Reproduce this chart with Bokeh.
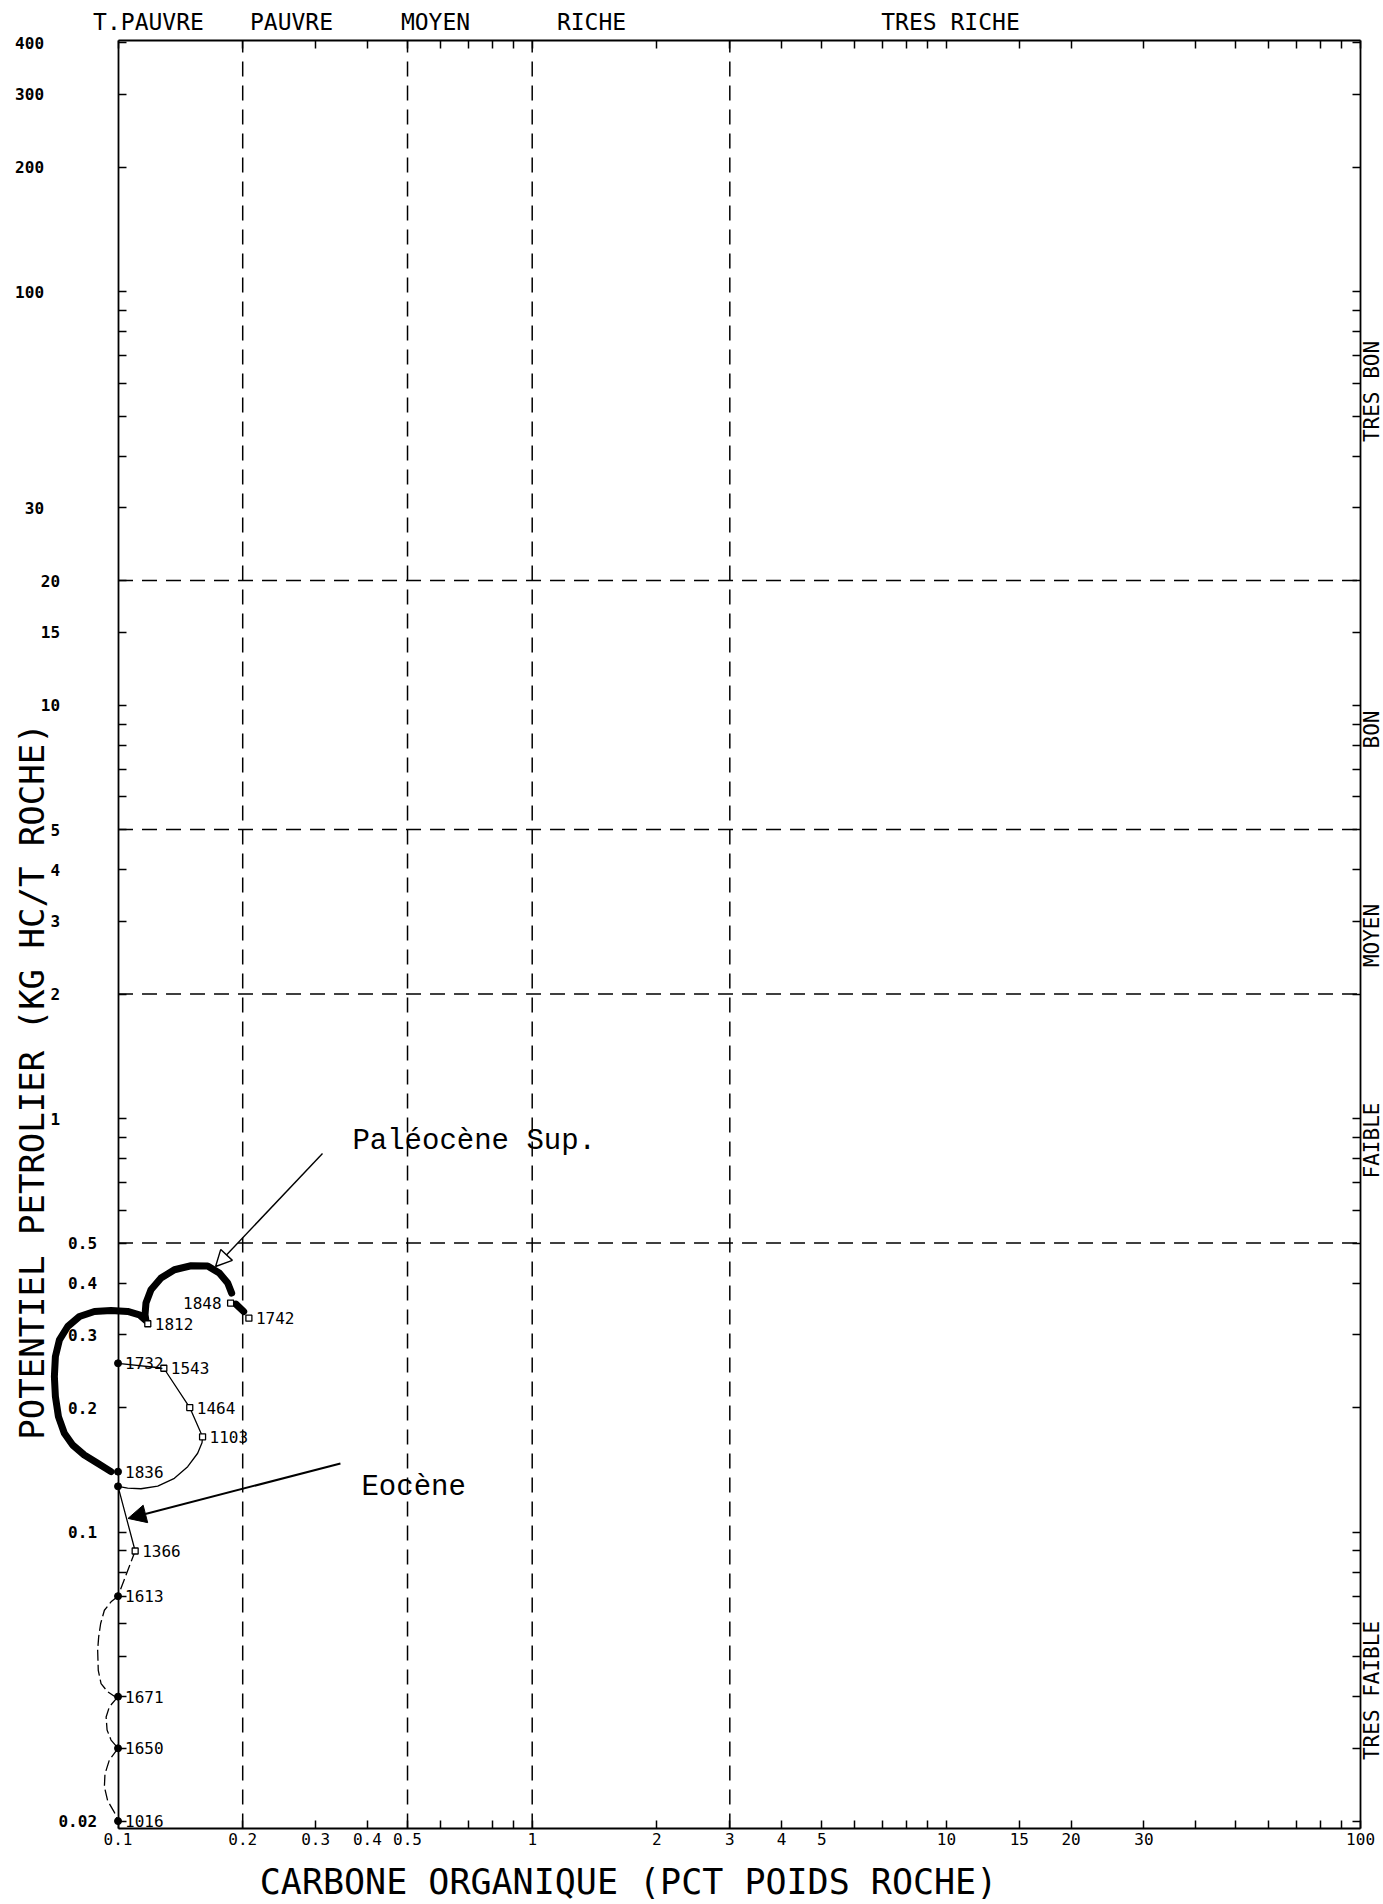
import math

from bokeh.core.properties import value
from bokeh.embed import file_html
from bokeh.models import (Arrow, ColumnDataSource, CustomJSTickFormatter,
                          FixedTicker, Label, LogAxis, NormalHead, Range1d)
from bokeh.plotting import figure
from bokeh.resources import INLINE

# ---------------------------------------------------------------- axes
TOC_MIN, TOC_MAX = 0.1, 100.0          # carbone organique (% poids roche)
PP_MIN, PP_MAX = 0.0192, 405.0         # potentiel petrolier (kg HC / t roche)
# the drawing area spans the whole page; the frame box sits inside it
VIEW_X = (0.05203, 113.6)
VIEW_Y = (0.01257, 505.8)

X_TICKS = [0.1, 0.2, 0.3, 0.4, 0.5, 1, 2, 3, 4, 5, 10, 15, 20, 30, 100]
X_TICK_LABELS = ["0.1", "0.2", "0.3", "0.4", "0.5", "1", "2", "3", "4", "5",
                 "10", "15", "20", "30", "100"]
X_MINOR = [0.6, 0.7, 0.8, 0.9, 6, 7, 8, 9, 40, 50, 60, 70, 80, 90]

Y_TICKS = [0.02, 0.1, 0.2, 0.3, 0.4, 0.5, 1, 2, 3, 4, 5, 10, 15, 20, 30,
           100, 200, 300, 400]
Y_TICK_LABELS = ["0.02", "0.1", "0.2", "0.3", "0.4", "0.5", "1", "2", "3", "4",
                 "5", "10", "15", "20", "30", "100", "200", "300", "400"]
Y_MINOR = [0.03, 0.04, 0.05, 0.06, 0.07, 0.08, 0.09, 0.6, 0.7, 0.8, 0.9,
           6, 7, 8, 9, 40, 50, 60, 70, 80, 90]

# ---------------------------------------------------------------- classes
TOC_CLASSES = ["T.PAUVRE", "PAUVRE", "MOYEN", "RICHE", "TRES RICHE"]
TOC_BOUNDS = [0.2, 0.5, 1, 3]
PP_CLASSES = ["TRES BON", "BON", "MOYEN", "FAIBLE", "TRES FAIBLE"]
PP_BOUNDS = [20, 5, 2, 0.5]

# ---------------------------------------------------------------- samples (depth, TOC, PP)
SAMPLE_DEPTH = ["1812", "1848", "1742", "1732", "1543", "1464", "1103",
                "1836", "", "1366", "1613", "1671", "1650", "1016"]
SAMPLE_TOC = [0.118, 0.187, 0.207, 0.1, 0.129, 0.149, 0.160,
              0.1, 0.1, 0.110, 0.1, 0.1, 0.1, 0.1]
SAMPLE_PP = [0.319, 0.358, 0.329, 0.256, 0.249, 0.200, 0.170,
             0.140, 0.129, 0.090, 0.070, 0.040, 0.030, 0.020]

# Paleocene sup. trend (thick)
PALEO_TOC = [0.0962, 0.0893, 0.0829, 0.0777, 0.0742, 0.0718, 0.0706, 0.0702,
             0.0706, 0.0722, 0.0756, 0.0807, 0.0877, 0.0962, 0.1055, 0.1126,
             0.1168, 0.1162, 0.1168, 0.1201, 0.1270, 0.1368, 0.1501, 0.1646,
             0.1756, 0.1840, 0.1881]
PALEO_PP = [0.140, 0.1467, 0.1536, 0.1624, 0.1734, 0.1902, 0.2127, 0.2377,
            0.2658, 0.2917, 0.3142, 0.3322, 0.3416, 0.3435, 0.3416, 0.3353,
            0.3249, 0.3353, 0.3579, 0.3855, 0.4115, 0.4309, 0.4406, 0.4399,
            0.4231, 0.4001, 0.3784]
PALEO_TAIL_TOC = [0.1926, 0.2011]
PALEO_TAIL_PP = [0.3559, 0.3416]

# Eocene trend (thin, solid part)
EOC_TOC = [0.1, 0.129, 0.149, 0.160, 0.1595, 0.1557, 0.1473, 0.1368, 0.1247,
           0.1136, 0.1055, 0.1, 0.110]
EOC_PP = [0.256, 0.249, 0.200, 0.170, 0.1645, 0.1551, 0.1439, 0.1349, 0.1292,
          0.1273, 0.1278, 0.129, 0.090]

# Eocene trend (thin, dashed part)
EOC_DASH_TOC = [
    [0.110, 0.1],
    [0.1, 0.0962, 0.0927, 0.0908, 0.0898, 0.0893, 0.0896, 0.0910, 0.0944, 0.0980, 0.1],
    [0.1, 0.0953, 0.0936, 0.0941, 0.0962, 0.0989, 0.1],
    [0.1, 0.0953, 0.0930, 0.0927, 0.0944, 0.0980, 0.1],
]
EOC_DASH_PP = [
    [0.090, 0.070],
    [0.070, 0.0678, 0.0647, 0.0601, 0.0558, 0.0518, 0.0463, 0.0430, 0.0411, 0.0401, 0.040],
    [0.040, 0.0378, 0.0357, 0.0332, 0.0314, 0.0304, 0.030],
    [0.030, 0.0281, 0.0260, 0.0242, 0.0224, 0.0210, 0.020],
]

MONO = "DejaVu Sans Mono"
TYPE = "Liberation Mono"
W, H = 1383, 1904


def lookup(vals, labs):
    return CustomJSTickFormatter(
        args=dict(vals=list(vals), labs=list(labs)),
        code="""
        const i = vals.findIndex((v) => Math.abs(v - tick) <= 1e-9 * Math.abs(v));
        return i < 0 ? "" : labs[i];
        """)


def blank():
    return CustomJSTickFormatter(code="return '';")


def style_axis(ax, width=1.8):
    ax.axis_line_width = width
    ax.axis_line_color = "black"
    ax.major_tick_in = 8
    ax.major_tick_out = 0
    ax.minor_tick_in = 8
    ax.minor_tick_out = 0
    ax.major_tick_line_width = 1.5
    ax.minor_tick_line_width = 1.5
    ax.major_tick_line_color = "black"
    ax.minor_tick_line_color = "black"
    ax.major_label_text_color = "black"


def page_label(px, py, text, size, angle=0.0, font=MONO):
    """Label placed by page pixel (from the top-left corner)."""
    return Label(x=px, y=H - py, x_units="screen", y_units="screen",
                 angle=angle, text=text, text_font=font,
                 text_font_size=size, text_align="center",
                 text_baseline="middle", text_color="black")


p = figure(width=W, height=H,
           x_axis_type="log", y_axis_type="log",
           x_range=Range1d(*VIEW_X), y_range=Range1d(*VIEW_Y),
           output_backend="svg", toolbar_location=None,
           min_border=0, min_border_left=0, min_border_right=0,
           min_border_top=0, min_border_bottom=0)
p.title.visible = False
p.grid.visible = False
p.outline_line_color = None
p.background_fill_color = "white"
p.border_fill_color = "white"

# bottom axis
xa = p.xaxis[0]
xa.fixed_location = PP_MIN
xa.bounds = (TOC_MIN, TOC_MAX)
xa.ticker = FixedTicker(ticks=X_TICKS, minor_ticks=X_MINOR)
xa.formatter = lookup(X_TICKS, X_TICK_LABELS)
style_axis(xa)
xa.major_label_text_font = MONO
xa.major_label_text_font_size = "16px"
xa.major_label_standoff = 5

# left axis on TOC = 0.1: line and all ticks
ya = p.yaxis[0]
ya.fixed_location = TOC_MIN
ya.bounds = (PP_MIN, PP_MAX)
ya.ticker = FixedTicker(ticks=[], minor_ticks=Y_TICKS + Y_MINOR)
ya.formatter = blank()
style_axis(ya)

# its labels, set out from the axis by a distance that grows with the value
for lo, hi, standoff in [(0, 1, 15), (1, 30, 52), (30, 1000, 68)]:
    grp = [(v, l) for v, l in zip(Y_TICKS, Y_TICK_LABELS) if lo <= v < hi]
    p.add_layout(LogAxis(
        fixed_location=TOC_MIN, bounds=(PP_MIN, PP_MAX),
        ticker=FixedTicker(ticks=[v for v, _ in grp]),
        formatter=lookup([v for v, _ in grp], [l for _, l in grp]),
        axis_line_color=None, major_tick_line_color=None,
        minor_tick_line_color=None,
        major_label_text_font=MONO, major_label_text_font_style="bold",
        major_label_text_font_size="16px", major_label_standoff=standoff,
        major_label_text_color="black"), "left")

# top and right sides of the frame, ticks only
top = LogAxis(fixed_location=PP_MAX, bounds=(TOC_MIN, TOC_MAX),
              ticker=FixedTicker(ticks=X_TICKS, minor_ticks=X_MINOR),
              formatter=blank(), major_label_standoff=0)
style_axis(top)
p.add_layout(top, "above")

right = LogAxis(fixed_location=TOC_MAX, bounds=(PP_MIN, PP_MAX),
                ticker=FixedTicker(ticks=Y_TICKS, minor_ticks=Y_MINOR),
                formatter=blank(), major_label_standoff=0)
style_axis(right)
p.add_layout(right, "right")

# class boundaries
p.segment(x0=TOC_BOUNDS, y0=[PP_MIN] * len(TOC_BOUNDS),
          x1=TOC_BOUNDS, y1=[PP_MAX] * len(TOC_BOUNDS),
          line_color="black", line_width=1.5, line_dash="15 9")
p.segment(x0=[TOC_MIN] * len(PP_BOUNDS), y0=PP_BOUNDS,
          x1=[TOC_MAX] * len(PP_BOUNDS), y1=PP_BOUNDS,
          line_color="black", line_width=1.5, line_dash="15 9")

# trends
p.line(PALEO_TOC, PALEO_PP, line_color="black", line_width=7,
       line_cap="round", line_join="round")
p.line(PALEO_TAIL_TOC, PALEO_TAIL_PP, line_color="black", line_width=7,
       line_cap="round")
p.line(EOC_TOC, EOC_PP, line_color="black", line_width=1.3)
p.multi_line(EOC_DASH_TOC, EOC_DASH_PP, line_color="black", line_width=1.3,
             line_dash="11 4")

# samples
on_axis = [i for i, x in enumerate(SAMPLE_TOC) if x <= TOC_MIN]
off_axis = [i for i, x in enumerate(SAMPLE_TOC) if x > TOC_MIN]
p.scatter([SAMPLE_TOC[i] for i in on_axis], [SAMPLE_PP[i] for i in on_axis],
          marker="circle", size=7, fill_color="black", line_color="black")
p.scatter([SAMPLE_TOC[i] for i in off_axis], [SAMPLE_PP[i] for i in off_axis],
          marker="square", size=6, fill_color="white", line_color="black",
          line_width=1.3)

LEFT_SIDE = {"1848"}
right_src = ColumnDataSource(dict(
    x=[x for x, d in zip(SAMPLE_TOC, SAMPLE_DEPTH) if d and d not in LEFT_SIDE],
    y=[y for y, d in zip(SAMPLE_PP, SAMPLE_DEPTH) if d and d not in LEFT_SIDE],
    t=[d for d in SAMPLE_DEPTH if d and d not in LEFT_SIDE]))
left_src = ColumnDataSource(dict(
    x=[x for x, d in zip(SAMPLE_TOC, SAMPLE_DEPTH) if d in LEFT_SIDE],
    y=[y for y, d in zip(SAMPLE_PP, SAMPLE_DEPTH) if d in LEFT_SIDE],
    t=[d for d in SAMPLE_DEPTH if d in LEFT_SIDE]))
p.text("x", "y", text="t", source=right_src, x_offset=7,
       text_baseline="middle", text_align="left",
       text_font=value(MONO), text_font_size="16px", text_color="black")
p.text("x", "y", text="t", source=left_src, x_offset=-9,
       text_baseline="middle", text_align="right",
       text_font=value(MONO), text_font_size="16px", text_color="black")

# annotations
p.add_layout(Label(x=0.368, y=0.880, text="Paléocène Sup.",
                   text_font=TYPE, text_font_size="29px",
                   text_align="left", text_baseline="middle",
                   text_color="black"))
p.add_layout(Arrow(x_start=0.3117, y_start=0.8234, x_end=0.172, y_end=0.4388,
                   line_color="black", line_width=1.4,
                   end=NormalHead(size=16, fill_color="white",
                                  line_color="black", line_width=1.4)))
p.add_layout(Label(x=0.387, y=0.1282, text="Eocène",
                   text_font=TYPE, text_font_size="29px",
                   text_align="left", text_baseline="middle",
                   text_color="black"))
p.add_layout(Arrow(x_start=0.3444, y_start=0.1465, x_end=0.1057, y_end=0.1079,
                   line_color="black", line_width=2,
                   end=NormalHead(size=18, fill_color="black",
                                  line_color="black")))

# class names along the top and right edges
for name, px in zip(TOC_CLASSES, [148, 291, 435, 591, 950]):
    p.add_layout(page_label(px, 21, name, "23px"))
for name, py in zip(PP_CLASSES, [391, 729, 935, 1140, 1690]):
    p.add_layout(page_label(1371, py, name, "21px", angle=math.pi / 2))

# axis titles
p.add_layout(page_label(628, 1881, "CARBONE ORGANIQUE (PCT POIDS ROCHE)", "35px"))
p.add_layout(page_label(31, 1081, "POTENTIEL PETROLIER (KG HC/T ROCHE)", "34px",
                        angle=math.pi / 2))

open("out.html", "w").write(file_html(p, INLINE))
